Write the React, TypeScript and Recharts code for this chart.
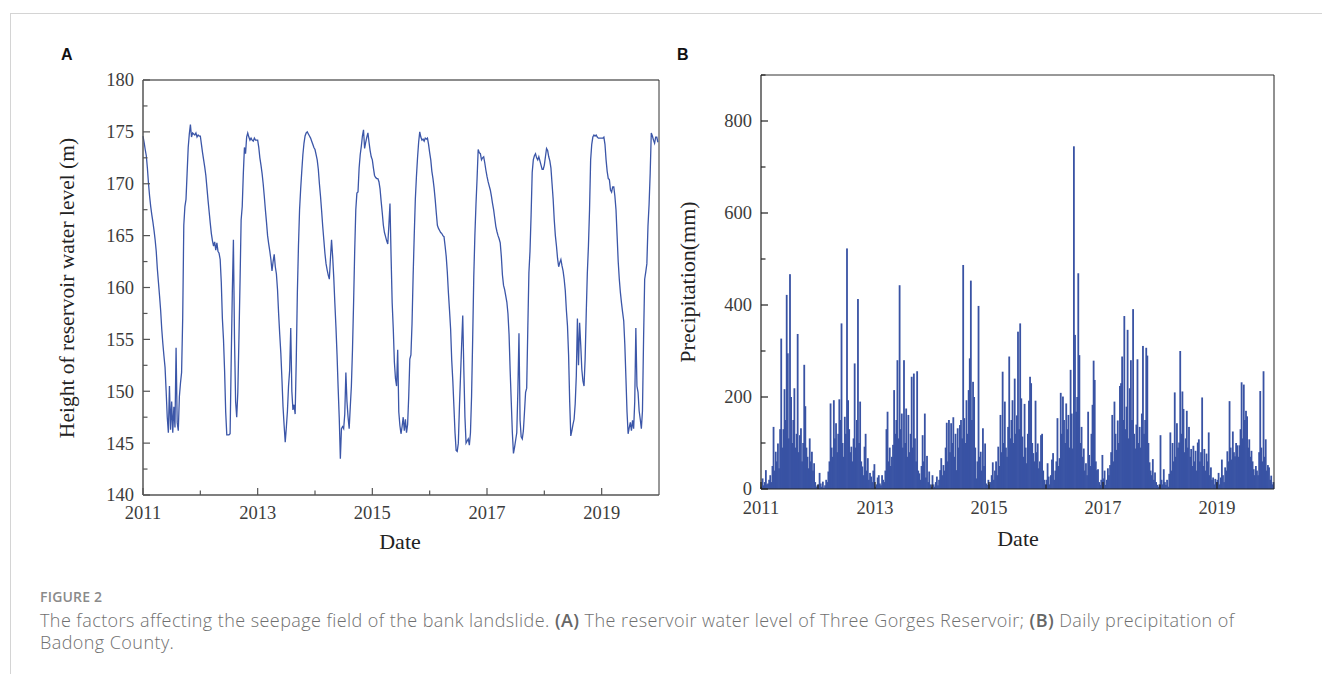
import { Bar, BarChart, Line, LineChart, ReferenceLine, XAxis, YAxis } from "recharts";

// weekly samples, 52 per year
const YEARS = [2011, 2012, 2013, 2014, 2015, 2016, 2017, 2018, 2019];

const LEVEL_2011 = [174.6, 174, 173.3, 172.7, 171.5, 170, 168.8, 167.8, 167, 166.3, 165.5, 164.6, 163.5, 161.8, 160.5, 159.2, 157.8, 156, 154.6, 153.4, 152.3, 150, 147.5, 146, 150.5, 146.3, 149, 146, 148.5, 146.5, 154.2, 147, 146.2, 149.5, 150.8, 151.8, 157, 166, 167.8, 168.5, 171, 173.5, 174.8, 175.7, 174.5, 174.9, 174.8, 174.7, 174.9, 174.5, 174.7, 174.6];
const LEVEL_2012 = [174.6, 173.8, 173, 172.3, 171.6, 170.8, 169.6, 168.4, 167.3, 166.2, 165.2, 164.5, 164, 164.4, 163.6, 164.3, 163.5, 163.3, 162.7, 160.5, 157, 155, 152, 148, 145.8, 145.8, 145.8, 145.9, 153, 159.5, 164.6, 155, 149, 147.5, 149.9, 155, 160.5, 166.5, 167.8, 171, 173.5, 172.9, 174.5, 174.9, 174.5, 174.2, 174.4, 174.2, 174.1, 174.4, 174.2, 174.2];
const LEVEL_2013 = [174.2, 173.5, 172.5, 171.8, 171, 170, 168.8, 167.5, 166.3, 165, 164.2, 163.5, 162.7, 161.6, 162.5, 163.2, 162, 161.3, 159.8, 157.5, 155.5, 153.7, 151.2, 148.5, 146.7, 145.1, 146.5, 148.1, 150.5, 152, 156.1, 150, 148.2, 148.7, 147.8, 153, 159.5, 164, 167.5, 169.5, 171.2, 172.8, 173.9, 174.6, 174.9, 175, 174.8, 174.6, 174.4, 174.1, 173.8, 173.5];
const LEVEL_2014 = [173.3, 172.8, 172.3, 171.4, 170, 168.8, 167.4, 165.9, 164.6, 163.3, 162.3, 161.7, 161.2, 160.8, 162.8, 164.6, 163, 161, 158.5, 156.2, 153.5, 150.3, 147.4, 143.5, 146.4, 146.6, 146.4, 147.8, 151.8, 149, 147.5, 146.4, 148.5, 150.5, 154, 158.5, 163.5, 167.5, 169.1, 169.2, 171.5, 172.8, 173.6, 174.6, 175.2, 173.4, 174, 174.5, 174.9, 174, 173.2, 172.6];
const LEVEL_2015 = [172.3, 171.5, 170.8, 170.6, 170.5, 170.5, 170.2, 169.5, 168.3, 167.2, 166, 165.3, 164.9, 164.5, 164.2, 166, 168.1, 163, 158.5, 156, 152.8, 151.2, 150.5, 154, 148, 146.7, 145.9, 146.6, 147.5, 146.2, 147.3, 146, 146.8, 149.5, 153.1, 153.5, 156.5, 161.1, 165, 168.5, 170.7, 172.5, 174, 175, 174.5, 174.2, 174.3, 174.1, 174.4, 174.3, 174.4, 173.8];
const LEVEL_2016 = [173, 172.3, 171.2, 170.5, 169.6, 168.5, 167.2, 166, 165.7, 165.5, 165.3, 165.2, 165, 164.9, 164, 163, 161.5, 159.5, 157.8, 156, 153, 151, 148.5, 146, 144.3, 144.2, 145, 148.5, 151.5, 154.5, 157.3, 152, 147.5, 145, 145.2, 145.4, 144.8, 146, 149.5, 155, 161, 165, 168, 170.5, 173.3, 173, 172.9, 172.3, 172.5, 172.6, 172, 171.3];
const LEVEL_2017 = [170.7, 170.2, 169.8, 169.4, 168.8, 168.1, 167.5, 166.7, 165.9, 165.4, 165, 164.7, 164.3, 163, 161.2, 160.2, 159.8, 159.2, 158.6, 157.5, 155.5, 152, 149, 146, 144, 144.6, 145.3, 146, 150, 155.6, 147.2, 145.6, 145.4, 146.2, 148, 149.9, 150.3, 156, 161.4, 163.5, 167, 171.1, 172.3, 172.7, 172.9, 172.5, 172.3, 172.6, 172.2, 171.8, 171.4, 171.4];
const LEVEL_2018 = [171.8, 172.6, 173.4, 173.2, 172.6, 172.2, 171.5, 170, 168.5, 166.5, 165, 164, 162.8, 162, 162.4, 162.7, 162.1, 161.6, 160.8, 159.7, 157.8, 156.3, 153.5, 149, 145.7, 146.2, 146.8, 147.3, 148.8, 151.5, 157, 152.5, 156.6, 154.5, 152.1, 151, 150.5, 153.1, 157.5, 161.4, 164, 167.5, 172.3, 173.8, 174.5, 174.7, 174.6, 174.7, 174.5, 174.4, 174.4, 174.4];
const LEVEL_2019 = [174.4, 174.4, 174.5, 173.8, 172.3, 171.2, 170.5, 170.4, 169.4, 169.2, 169.7, 169.7, 168.8, 167.5, 165, 162.5, 160.8, 159.5, 158.5, 157.6, 156.8, 154.5, 151.3, 148, 145.9, 146.5, 147, 146.2, 147.2, 146.4, 149, 156.1, 150.5, 149.9, 148.1, 147.3, 146.4, 148.1, 155, 160.8, 161.5, 162.3, 165.9, 168, 171, 174.9, 174.6, 174.2, 173.9, 174.5, 174.5, 174];

const RAIN_2011 = [5, 23, 8, 15, 41, 10, 12, 20, 30, 15, 50, 135, 40, 81, 60, 99, 45, 130, 327, 90, 130, 217, 150, 422, 295, 110, 467, 200, 100, 150, 219, 90, 120, 337, 80, 117, 132, 60, 100, 270, 180, 90, 70, 45, 110, 60, 81, 40, 56, 15, 5, 8];
const RAIN_2012 = [10, 35, 12, 5, 16, 3, 8, 20, 15, 38, 60, 186, 90, 70, 193, 110, 143, 80, 120, 195, 150, 360, 100, 70, 157, 120, 523, 193, 130, 80, 92, 60, 110, 273, 90, 150, 413, 100, 190, 60, 49, 30, 92, 120, 40, 67, 20, 35, 27, 15, 40, 54];
const RAIN_2013 = [5, 10, 25, 30, 12, 8, 30, 20, 15, 40, 130, 168, 60, 90, 50, 70, 96, 215, 120, 150, 280, 110, 443, 130, 164, 90, 280, 100, 175, 70, 161, 80, 120, 244, 90, 251, 110, 60, 256, 40, 34, 20, 50, 117, 60, 164, 25, 72, 15, 38, 10, 5];
const RAIN_2014 = [30, 10, 5, 15, 27, 8, 20, 41, 67, 30, 52, 40, 90, 144, 60, 150, 80, 143, 100, 156, 70, 120, 41, 132, 90, 139, 150, 110, 487, 154, 100, 193, 120, 215, 284, 453, 150, 233, 200, 90, 23, 60, 398, 70, 81, 40, 132, 50, 99, 12, 9, 20];
const RAIN_2015 = [10, 15, 30, 58, 20, 40, 60, 30, 92, 50, 161, 80, 255, 100, 190, 90, 70, 135, 288, 110, 150, 193, 100, 240, 120, 160, 342, 130, 360, 197, 114, 70, 185, 90, 56, 120, 192, 244, 230, 100, 78, 60, 192, 80, 99, 45, 60, 117, 120, 40, 20, 10];
const RAIN_2016 = [20, 56, 27, 10, 30, 64, 78, 20, 40, 60, 154, 50, 67, 209, 120, 201, 150, 100, 186, 130, 161, 90, 259, 164, 88, 745, 335, 168, 200, 469, 291, 100, 135, 70, 88, 40, 56, 30, 168, 74, 50, 120, 183, 279, 237, 60, 41, 43, 15, 9, 20, 74];
const RAIN_2017 = [23, 40, 9, 20, 45, 30, 52, 80, 161, 60, 190, 120, 85, 149, 100, 224, 230, 288, 150, 376, 130, 179, 346, 110, 219, 280, 150, 391, 120, 88, 140, 282, 100, 135, 90, 164, 311, 120, 150, 307, 290, 100, 58, 40, 30, 65, 20, 36, 15, 9, 5, 10];
const RAIN_2018 = [117, 20, 10, 43, 15, 9, 20, 5, 33, 123, 40, 100, 60, 210, 70, 143, 90, 101, 300, 120, 212, 174, 80, 110, 170, 90, 135, 70, 87, 50, 94, 60, 83, 40, 101, 108, 60, 80, 199, 50, 87, 40, 77, 60, 123, 30, 47, 20, 25, 10, 22, 15];
const RAIN_2019 = [20, 35, 10, 25, 64, 30, 15, 47, 40, 82, 60, 191, 90, 64, 125, 80, 71, 100, 95, 70, 95, 130, 232, 110, 227, 150, 170, 158, 90, 108, 70, 83, 60, 43, 30, 50, 40, 30, 80, 213, 90, 60, 256, 70, 108, 40, 52, 47, 20, 29, 10, 15];

const YEAR_TICKS = [2011, 2012, 2013, 2014, 2015, 2016, 2017, 2018, 2019];
const LEVEL_TICKS = [140, 142.5, 145, 147.5, 150, 152.5, 155, 157.5, 160, 162.5, 165, 167.5, 170, 172.5, 175, 177.5, 180];
const RAIN_TICKS = [0, 100, 200, 300, 400, 500, 600, 700, 800, 900];

const LEVELS = [LEVEL_2011, LEVEL_2012, LEVEL_2013, LEVEL_2014, LEVEL_2015, LEVEL_2016, LEVEL_2017, LEVEL_2018, LEVEL_2019];
const RAINS = [RAIN_2011, RAIN_2012, RAIN_2013, RAIN_2014, RAIN_2015, RAIN_2016, RAIN_2017, RAIN_2018, RAIN_2019];

const levelData = LEVELS.flatMap((vals, k) => vals.map((v, w) => ({ t: YEARS[k] + w / 52, level: v })));
const rainData = RAINS.flatMap((vals, k) => vals.map((v, w) => ({ t: YEARS[k] + (w + 0.5) / 52, rain: v })));

const BLUE = "#3953a4";
const SERIF = "'Liberation Serif', 'Times New Roman', serif";
const TICK_TEXT = "#3c3c3c";

function YTick(props: any) {
  const { x = 0, y = 0, payload, major, color } = props;
  return (
    <g>
      <line x1={x} x2={x + (major ? 7 : 4.5)} y1={y} y2={y} stroke={color} strokeWidth={1.2} />
      {major && (
        <text x={x - 9} y={y} dy="0.35em" textAnchor="end" fontFamily={SERIF} fontSize={18.5} fill={TICK_TEXT}>
          {payload.value}
        </text>
      )}
    </g>
  );
}

function XTick(props: any) {
  const { x = 0, y = 0, payload, color, labelDy } = props;
  const major = (payload.value - 2011) % 2 === 0;
  return (
    <g>
      <line x1={x} x2={x} y1={y} y2={y - (major ? 7 : 4.5)} stroke={color} strokeWidth={1.2} />
      {major && (
        <text x={x} y={y + labelDy} dy="0.35em" textAnchor="middle" fontFamily={SERIF} fontSize={18.5} fill={TICK_TEXT}>
          {payload.value}
        </text>
      )}
    </g>
  );
}

// thin rain bar centred on the position recharts computed for it
function RainBar(props: any) {
  const { x = 0, y = 0, width = 0, height = 0 } = props;
  if (!(height > 0)) return null;
  const cx = x + width / 2;
  return <rect x={cx - 0.9} y={y} width={1.8} height={height} fill={BLUE} />;
}

const abs = (left: number, top: number): React.CSSProperties => ({ position: "absolute", left, top });

export default function App() {
  return (
    <div style={{ position: "absolute", left: 0, top: 0, width: 1322, height: 674, background: "#fff", overflow: "hidden" }}>
      <div style={{ position: "absolute", left: 10, top: 13, width: 1312, height: 700, borderTop: "1px solid #d4d4d4", borderLeft: "1px solid #d4d4d4" }} />

      <div style={{ ...abs(61, 46), fontFamily: "'Liberation Sans', Arial, sans-serif", fontWeight: 700, fontSize: 16, color: "#111" }}>A</div>
      <div style={{ ...abs(677, 46), fontFamily: "'Liberation Sans', Arial, sans-serif", fontWeight: 700, fontSize: 16, color: "#111" }}>B</div>

      <div style={abs(0, 0)}>
        <LineChart width={680} height={560} data={levelData} margin={{ top: 80, left: 142, right: 21, bottom: 64 }}>
          <XAxis
            type="number"
            dataKey="t"
            domain={[2011, 2020]}
            ticks={YEAR_TICKS}
            interval={0}
            height={1}
            tickSize={0}
            tickMargin={0}
            stroke="#555"
            strokeWidth={1.5}
            tick={(p: any) => <XTick {...p} color="#555" labelDy={18} />}
          />
          <YAxis
            type="number"
            domain={[140, 180]}
            ticks={LEVEL_TICKS}
            interval={0}
            width={1}
            tickSize={0}
            tickMargin={0}
            stroke="#555"
            strokeWidth={1.5}
            tick={(p: any) => <YTick {...p} color="#555" major={p.payload.value % 5 === 0} />}
          />
          <ReferenceLine y={180} stroke="#666" strokeWidth={1.5} />
          <ReferenceLine x={2020} stroke="#333" strokeWidth={1} />
          <Line type="linear" dataKey="level" stroke="#3b56a8" strokeWidth={1.3} dot={false} isAnimationActive={false} />
        </LineChart>
      </div>

      <div style={abs(680, 0)}>
        <BarChart width={642} height={560} data={rainData} margin={{ top: 75, left: 80, right: 48, bottom: 70 }} barCategoryGap={0}>
          <XAxis
            type="number"
            dataKey="t"
            domain={[2011, 2020]}
            ticks={YEAR_TICKS}
            interval={0}
            height={1}
            tickSize={0}
            tickMargin={0}
            stroke="#222"
            strokeWidth={1.2}
            tick={(p: any) => <XTick {...p} color="#222" labelDy={19} />}
          />
          <YAxis
            type="number"
            domain={[0, 900]}
            ticks={RAIN_TICKS}
            interval={0}
            width={1}
            tickSize={0}
            tickMargin={0}
            stroke="#222"
            strokeWidth={1.2}
            tick={(p: any) => <YTick {...p} color="#222" major={p.payload.value % 200 === 0 && p.payload.value <= 800} />}
          />
          <ReferenceLine y={900} stroke="#333" strokeWidth={1} />
          <ReferenceLine x={2020} stroke="#222" strokeWidth={1} />
          <Bar dataKey="rain" fill={BLUE} barSize={1.1} shape={(p: any) => <RainBar {...p} />} isAnimationActive={false} />
        </BarChart>
      </div>

      <div style={{ ...abs(67, 288), transform: "translate(-50%, -50%) rotate(-90deg)", whiteSpace: "nowrap", fontFamily: SERIF, fontSize: 21.5, color: "#222" }}>
        Height of reservoir water level (m)
      </div>
      <div style={{ ...abs(400, 542), transform: "translate(-50%, -50%)", fontFamily: SERIF, fontSize: 22, color: "#222" }}>Date</div>
      <div style={{ ...abs(688, 282), transform: "translate(-50%, -50%) rotate(-90deg)", whiteSpace: "nowrap", fontFamily: SERIF, fontSize: 22, color: "#222" }}>
        Precipitation(mm)
      </div>
      <div style={{ ...abs(1018, 539), transform: "translate(-50%, -50%)", fontFamily: SERIF, fontSize: 22, color: "#222" }}>Date</div>

      <div style={{ ...abs(40, 587), fontFamily: "'Open Sans', sans-serif", fontSize: 14, fontWeight: 600, color: "#8a8a8a", letterSpacing: 0.2 }}>FIGURE 2</div>
      <div style={{ ...abs(40, 609), fontFamily: "'Open Sans', sans-serif", fontSize: 18, fontWeight: 300, lineHeight: "22px", color: "#707070", whiteSpace: "nowrap", letterSpacing: 0.43 }}>
        The factors affecting the seepage field of the bank landslide. <b style={{ fontWeight: 600, color: "#666" }}>(A)</b> The reservoir water level of Three Gorges Reservoir; <b style={{ fontWeight: 600, color: "#666" }}>(B)</b> Daily precipitation of
        <br />
        Badong County.
      </div>
    </div>
  );
}
